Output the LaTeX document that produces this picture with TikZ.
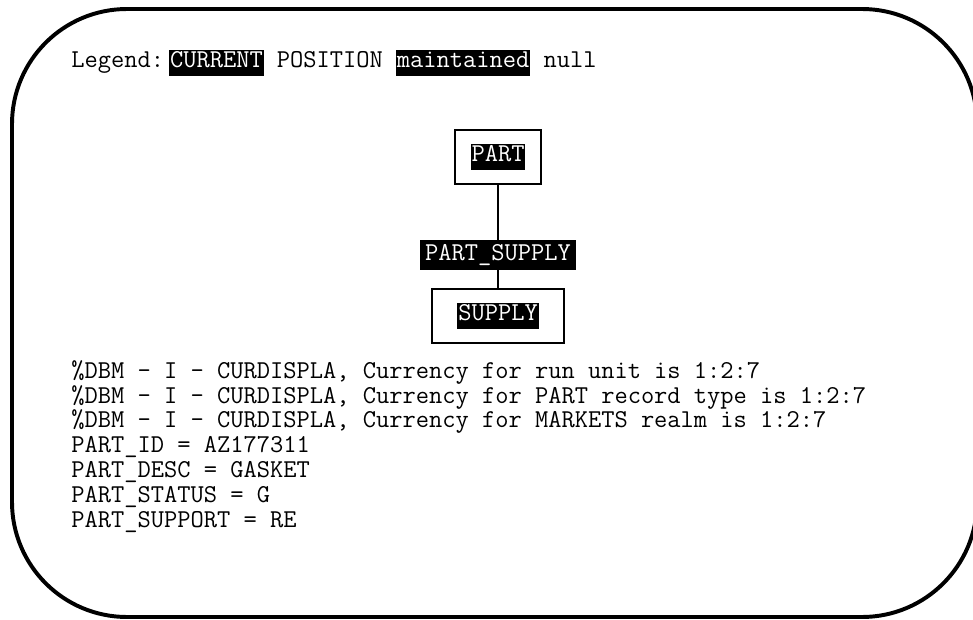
\documentclass[tikz,border=0pt]{standalone}
\usepackage{fontspec}
\usepackage{xcolor}
\usepackage{tikz}
\usetikzlibrary{calc}
\tikzset{
  frame/.style={draw, line width=2.8pt, rounded corners=2.875cm},
  recbox/.style={draw, line width=0.9pt, minimum height=1.35cm, inner sep=0pt},
  setlabel/.style={fill=black, text=white, minimum width=3.9cm, minimum height=0.75cm, inner sep=0pt},
  screen/.style={anchor=north west, align=left, inner sep=0pt}
}
\newcommand{\blk}[1]{{\setlength{\fboxsep}{0.6pt}\colorbox{black}{\strut\textcolor{white}{#1}}}}

\begin{document}
\begin{tikzpicture}[font=\ttfamily\fontsize{18.3}{17.7}\selectfont]
        \useasboundingbox (0,0) rectangle (24.325,-15.5);
        % Screen frame
        \draw[frame] (0.3,-0.225) rectangle (24.425,-15.425);

        % Legend
        \node[anchor=west, inner sep=0pt] (legend) at (1.775,-1.575) {Legend:\hspace{0.2em}\blk{CURRENT} POSITION \blk{maintained} null};

        % Records and set
        \node[recbox, minimum width=2.15cm] (part) at (12.45,-3.925) {\blk{PART}};
        \node[setlabel] (partsupply) at (12.45,-6.375) {PART\_SUPPLY};
        \node[recbox, minimum width=3.3cm] (supply) at (12.45,-7.9) {\blk{SUPPLY}};

        \draw[line width=0.9pt] (part) -- (partsupply);
        \draw[line width=0.9pt] (partsupply) -- (supply);

        % Messages
        \node[screen] (msgs) at (1.775,-9.0) {\%DBM - I - CURDISPLA, Currency for run unit is 1:2:7\\
\%DBM - I - CURDISPLA, Currency for PART record type is 1:2:7\\
\%DBM - I - CURDISPLA, Currency for MARKETS realm is 1:2:7\\
PART\_ID = AZ177311\\
PART\_DESC = GASKET\\
PART\_STATUS = G\\
PART\_SUPPORT = RE};
    \end{tikzpicture}
\end{document}
